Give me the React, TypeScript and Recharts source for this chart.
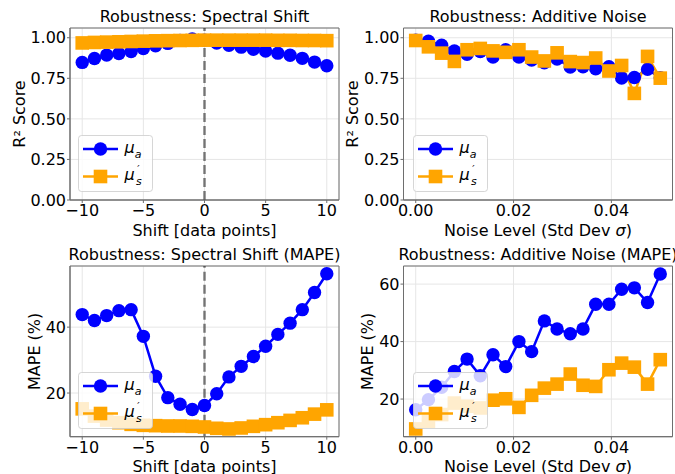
import React from "react";
import {
  LineChart,
  Line,
  XAxis,
  YAxis,
  CartesianGrid,
  ReferenceLine,
  ReferenceArea,
  Legend,
} from "recharts";

// Shift sweep (integer shifts) and noise sweep (std dev of added noise)
const shiftX = [-10, -9, -8, -7, -6, -5, -4, -3, -2, -1, 0, 1, 2, 3, 4, 5, 6, 7, 8, 9, 10];
const noiseX = [
  0, 0.0026, 0.0053, 0.0079, 0.0105, 0.0132, 0.0158, 0.0184, 0.0211, 0.0237,
  0.0263, 0.0289, 0.0316, 0.0342, 0.0368, 0.0395, 0.0421, 0.0447, 0.0474, 0.05,
];

// R² vs shift
const r2ShiftMuA = [0.848, 0.872, 0.893, 0.903, 0.915, 0.934, 0.951, 0.965, 0.984, 0.992, 0.985, 0.968, 0.954, 0.942, 0.929, 0.918, 0.905, 0.892, 0.873, 0.85, 0.827];
const r2ShiftMuS = [0.968, 0.971, 0.973, 0.975, 0.977, 0.979, 0.981, 0.982, 0.983, 0.984, 0.985, 0.985, 0.985, 0.985, 0.985, 0.985, 0.984, 0.984, 0.983, 0.983, 0.982];

// R² vs noise
const r2NoiseMuA = [0.985, 0.978, 0.954, 0.918, 0.898, 0.915, 0.881, 0.926, 0.881, 0.862, 0.845, 0.869, 0.819, 0.821, 0.809, 0.821, 0.752, 0.755, 0.805, 0.754];
const r2NoiseMuS = [0.983, 0.944, 0.905, 0.854, 0.926, 0.934, 0.919, 0.91, 0.926, 0.881, 0.857, 0.907, 0.853, 0.847, 0.875, 0.795, 0.829, 0.657, 0.885, 0.751];

// MAPE (%) vs shift
const mapeShiftMuA = [43.8, 42.0, 43.5, 45.0, 45.3, 37.2, 25.1, 18.6, 16.6, 15.0, 16.2, 19.8, 24.9, 28.1, 31.1, 34.2, 37.8, 41.2, 45.3, 50.5, 56.2];
const mapeShiftMuS = [15.2, 13.0, 11.8, 11.0, 10.5, 10.2, 10.1, 10.0, 10.0, 9.9, 9.7, 9.3, 9.1, 9.4, 9.9, 10.4, 11.0, 11.7, 12.5, 13.6, 14.9];

// MAPE (%) vs noise
const mapeNoiseMuA = [16.3, 19.8, 24.1, 29.6, 33.9, 28.1, 35.4, 31.3, 40.0, 36.5, 47.2, 44.4, 42.7, 44.4, 53.0, 53.0, 58.2, 58.7, 53.6, 63.5];
const mapeNoiseMuS = [9.6, 12.3, 14.6, 18.6, 17.5, 16.9, 19.6, 20.1, 17.1, 21.3, 23.8, 25.2, 28.7, 24.8, 24.4, 30.2, 32.5, 31.1, 25.2, 33.7];

const shiftTicks = [-10, -5, 0, 5, 10];
const noiseTicks = [0, 0.02, 0.04];
const r2Ticks = [0, 0.25, 0.5, 0.75, 1];
const mapeShiftTicks = [20, 40];
const mapeNoiseTicks = [20, 40, 60];

const BLUE = "#0000ff";
const ORANGE = "#ffa500";
const FRAME = "#6e6e6e";
const GRID = "#e6e6e6";
const FONT = "'DejaVu Sans', sans-serif";

const toRows = (xs: number[], a: number[], s: number[]) =>
  xs.map((x, i) => ({ x, a: a[i], s: s[i] }));

const fmtShift = (v: number) => (v < 0 ? `\u2212${Math.abs(v)}` : String(v));
const fmt2 = (v: number) => v.toFixed(2);
const fmt0 = (v: number) => String(v);

const squareDot = (props: any) => {
  const { cx, cy, index } = props;
  if (cx == null || cy == null) return <g key={`sq-${index}`} />;
  return <rect key={`sq-${index}`} x={cx - 6.8} y={cy - 6.8} width={13.6} height={13.6} fill={ORANGE} />;
};

function LegendBox() {
  return (
    <svg width={75} height={57} style={{ display: "block" }}>
      <rect x={0.5} y={0.5} width={74} height={56} rx={3} fill="#fff" fillOpacity={0.8} stroke="#cccccc" strokeOpacity={0.8} />
      <line x1={5} x2={40} y1={14} y2={14} stroke={BLUE} strokeWidth={2.5} />
      <circle cx={22.5} cy={14} r={6.7} fill={BLUE} />
      <line x1={5} x2={40} y1={41.5} y2={41.5} stroke={ORANGE} strokeWidth={2.5} />
      <rect x={15.7} y={34.7} width={13.6} height={13.6} fill={ORANGE} />
      <text x={46.5} y={17.5} fontFamily={FONT} fontSize={16} fontStyle="italic" fill="#000">
        μ<tspan dy={5.5} fontSize={11}>a</tspan>
      </text>
      <text x={46.5} y={45} fontFamily={FONT} fontSize={16} fontStyle="italic" fill="#000">
        μ<tspan dx={2.5} dy={-7.5} fontSize={10}>′</tspan>
        <tspan x={58} dy={12.5} fontSize={11}>s</tspan>
      </text>
    </svg>
  );
}

interface PanelProps {
  left: number;
  top: number;
  width: number;
  height: number;
  margin: { top: number; right: number; left: number; bottom: number };
  yAxisWidth: number;
  xAxisHeight: number;
  rows: { x: number; a: number; s: number }[];
  xDomain: [number, number];
  xTicks: number[];
  xFmt: (v: number) => string;
  yDomain: [number, number];
  yTicks: number[];
  yFmt: (v: number) => string;
  xLabel: React.ReactNode;
  xLabelOffset: number;
  yLabel: string;
  yLabelOffset: number;
  title: string;
  legendLeft: number;
  legendTop: number;
  zeroLine?: boolean;
}

function Panel(p: PanelProps) {
  const plotLeft = p.left + p.margin.left + p.yAxisWidth;
  const plotRight = p.left + p.width - p.margin.right;
  const centre = (plotLeft + plotRight) / 2;
  const frameTop = p.top + p.margin.top;
  return (
    <>
      <div
        style={{
          position: "absolute",
          left: centre - 200,
          top: frameTop - 19.5,
          width: 400,
          textAlign: "center",
          fontFamily: FONT,
          fontSize: 16,
          lineHeight: "16px",
          whiteSpace: "nowrap",
          color: "#000",
        }}
      >
        {p.title}
      </div>
      <div style={{ position: "absolute", left: p.left, top: p.top }}>
        <LineChart width={p.width} height={p.height} data={p.rows} margin={p.margin}>
          <CartesianGrid stroke={GRID} strokeWidth={1} />
          <XAxis
            dataKey="x"
            type="number"
            domain={p.xDomain}
            ticks={p.xTicks}
            tickFormatter={p.xFmt}
            allowDataOverflow
            height={p.xAxisHeight}
            stroke={FRAME}
            tickSize={3}
            tickMargin={1.5}
            tick={{ fill: "#000", fontSize: 16, fontFamily: FONT }}
            label={{
              content: (lp: any) => {
                const vb = lp.viewBox || {};
                return (
                  <text
                    x={vb.x + vb.width / 2}
                    y={vb.y + vb.height - p.xLabelOffset}
                    textAnchor="middle"
                    fontFamily={FONT}
                    fontSize={16}
                    fill="#000"
                  >
                    {p.xLabel}
                  </text>
                );
              },
            }}
          />
          <YAxis
            type="number"
            domain={p.yDomain}
            ticks={p.yTicks}
            tickFormatter={p.yFmt}
            allowDataOverflow
            width={p.yAxisWidth}
            stroke={FRAME}
            tickSize={3}
            tickMargin={1}
            tick={{ fill: "#000", fontSize: 16, fontFamily: FONT }}
            label={{
              value: p.yLabel,
              angle: -90,
              position: "insideLeft",
              offset: p.yLabelOffset,
              style: { textAnchor: "middle", fontSize: 16, fontFamily: FONT, fill: "#000" },
            }}
          />
          <Line
            type="linear"
            dataKey="a"
            stroke={BLUE}
            strokeWidth={2.5}
            dot={{ r: 6.7, fill: BLUE, stroke: "none" }}
            activeDot={false}
            isAnimationActive={false}
          />
          <Line
            type="linear"
            dataKey="s"
            stroke={ORANGE}
            strokeWidth={2.5}
            dot={squareDot}
            activeDot={false}
            isAnimationActive={false}
          />
          {p.zeroLine && (
            <ReferenceLine x={0} stroke="#000" strokeOpacity={0.5} strokeWidth={2.5} strokeDasharray="9 4" />
          )}
          <ReferenceArea
            x1={p.xDomain[0]}
            x2={p.xDomain[1]}
            y1={p.yDomain[0]}
            y2={p.yDomain[1]}
            fill="none"
            fillOpacity={0}
            stroke={FRAME}
            strokeWidth={1}
          />
          <Legend
            layout="horizontal"
            align="center"
            verticalAlign="middle"
            width={75}
            height={57}
            wrapperStyle={{ left: p.legendLeft, top: p.legendTop }}
            content={() => <LegendBox />}
          />
        </LineChart>
      </div>
    </>
  );
}

export default function App() {
  const topMargin = { top: 28, right: 6, left: 0, bottom: 0 };
  const topMarginR = { top: 28, right: 2.5, left: 0, bottom: 0 };
  const botMargin = { top: 26, right: 6, left: 0, bottom: 0 };
  const botMarginR = { top: 26, right: 2.5, left: 0, bottom: 0 };
  const noiseLabel = (
    <>
      Noise Level (Std Dev <tspan fontStyle="italic">σ</tspan>)
    </>
  );
  return (
    <div
      style={{
        position: "absolute",
        left: 0,
        top: 0,
        width: 675,
        height: 474,
        overflow: "hidden",
        background: "#fff",
        fontFamily: FONT,
      }}
    >
      <Panel
        left={0}
        top={0}
        width={345}
        height={240}
        margin={topMargin}
        yAxisWidth={70}
        xAxisHeight={40}
        rows={toRows(shiftX, r2ShiftMuA, r2ShiftMuS)}
        xDomain={[-11, 11]}
        xTicks={shiftTicks}
        xFmt={fmtShift}
        yDomain={[0, 1.06]}
        yTicks={r2Ticks}
        yFmt={fmt2}
        xLabel="Shift [data points]"
        xLabelOffset={4.5}
        yLabel="R² Score"
        yLabelOffset={19}
        title="Robustness: Spectral Shift"
        legendLeft={78.3}
        legendTop={135}
        zeroLine
      />
      <Panel
        left={340}
        top={0}
        width={335}
        height={240}
        margin={topMarginR}
        yAxisWidth={63.5}
        xAxisHeight={40}
        rows={toRows(noiseX, r2NoiseMuA, r2NoiseMuS)}
        xDomain={[-0.0025, 0.0525]}
        xTicks={noiseTicks}
        xFmt={fmt2}
        yDomain={[0, 1.06]}
        yTicks={r2Ticks}
        yFmt={fmt2}
        xLabel={noiseLabel}
        xLabelOffset={4.5}
        yLabel="R² Score"
        yLabelOffset={12.5}
        title="Robustness: Additive Noise"
        legendLeft={72.7}
        legendTop={135}
      />
      <Panel
        left={0}
        top={240}
        width={345}
        height={234}
        margin={botMargin}
        yAxisWidth={70}
        xAxisHeight={37.3}
        rows={toRows(shiftX, mapeShiftMuA, mapeShiftMuS)}
        xDomain={[-11, 11]}
        xTicks={shiftTicks}
        xFmt={fmtShift}
        yDomain={[6.75, 58.55]}
        yTicks={mapeShiftTicks}
        yFmt={fmt0}
        xLabel="Shift [data points]"
        xLabelOffset={2}
        yLabel="MAPE (%)"
        yLabelOffset={34}
        title="Robustness: Spectral Shift (MAPE)"
        legendLeft={78.3}
        legendTop={131.7}
        zeroLine
      />
      <Panel
        left={340}
        top={240}
        width={335}
        height={234}
        margin={botMarginR}
        yAxisWidth={63.5}
        xAxisHeight={37.3}
        rows={toRows(noiseX, mapeNoiseMuA, mapeNoiseMuS)}
        xDomain={[-0.0025, 0.0525]}
        xTicks={noiseTicks}
        xFmt={fmt2}
        yDomain={[6.9, 66.3]}
        yTicks={mapeNoiseTicks}
        yFmt={fmt0}
        xLabel={noiseLabel}
        xLabelOffset={2}
        yLabel="MAPE (%)"
        yLabelOffset={27}
        title="Robustness: Additive Noise (MAPE)"
        legendLeft={72.7}
        legendTop={131.7}
      />
    </div>
  );
}
